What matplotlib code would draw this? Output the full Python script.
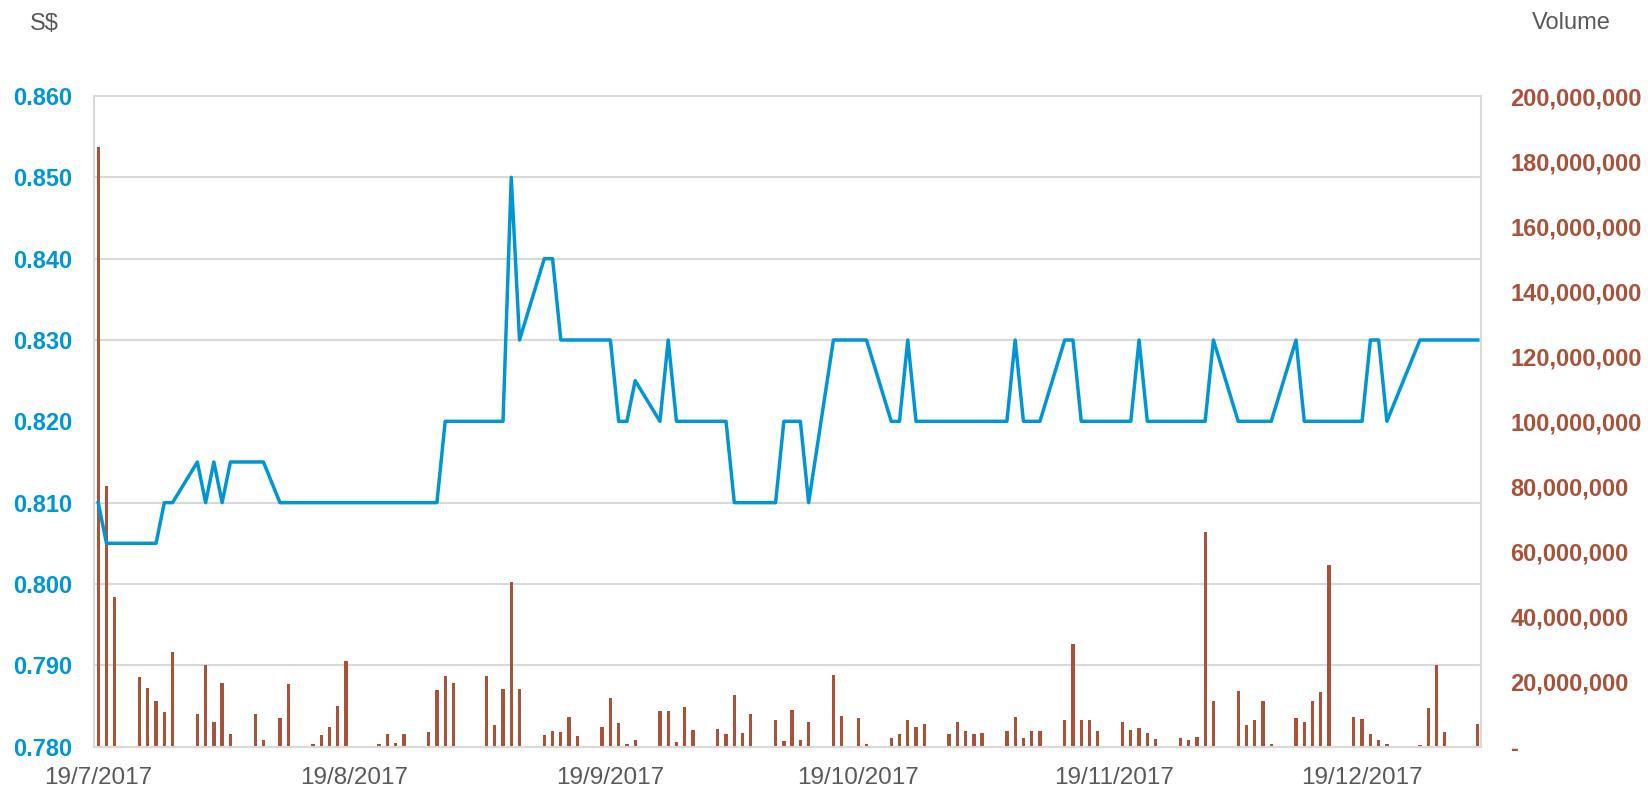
import numpy as np
import pandas as pd
import matplotlib
matplotlib.use('Agg')
import matplotlib.pyplot as plt
from matplotlib.ticker import FuncFormatter, MultipleLocator, FixedLocator

# trading days (SGX), 19 Jul 2017 - 2 Jan 2018
holidays = ['2017-08-09', '2017-09-01', '2017-10-18', '2017-12-25', '2018-01-01']
dates = pd.bdate_range('2017-07-19', '2018-01-02')
dates = dates[~dates.isin(pd.to_datetime(holidays))]

# closing price, S$
price = [
    # Jul
    0.810, 0.805, 0.805, 0.805, 0.805, 0.805, 0.810, 0.810, 0.815,
    # Aug
    0.810, 0.815, 0.810, 0.815, 0.815, 0.815, 0.810, 0.810, 0.810, 0.810, 0.810,
    0.810, 0.810, 0.810, 0.810, 0.810, 0.810, 0.810, 0.810, 0.810, 0.820, 0.820,
    # Sep
    0.820, 0.820, 0.820, 0.850, 0.830, 0.840, 0.840, 0.830, 0.830, 0.830,
    0.830, 0.830, 0.820, 0.820, 0.825, 0.820, 0.830, 0.820, 0.820, 0.820,
    # Oct
    0.820, 0.820, 0.810, 0.810, 0.810, 0.810, 0.820, 0.820, 0.820, 0.810, 0.830,
    0.830, 0.830, 0.830, 0.820, 0.820, 0.830, 0.820, 0.820, 0.820, 0.820,
    # Nov
    0.820, 0.820, 0.820, 0.820, 0.830, 0.820, 0.820, 0.820, 0.830, 0.830, 0.820,
    0.820, 0.820, 0.820, 0.820, 0.830, 0.820, 0.820, 0.820, 0.820, 0.820, 0.820,
    # Dec
    0.830, 0.820, 0.820, 0.820, 0.820, 0.820, 0.830, 0.820, 0.820, 0.820,
    0.820, 0.820, 0.820, 0.830, 0.830, 0.820, 0.830, 0.830, 0.830, 0.830,
    # Jan
    0.830,
]

# volume, millions of shares
volume_m = [
    # Jul
    184.3, 80.0, 46.0, 21.3, 18.0, 13.9, 10.7, 29.2, 10.1,
    # Aug
    25.2, 7.7, 19.6, 3.9, 10.0, 2.1, 8.8, 19.2, 0.7, 3.6, 6.0,
    12.5, 26.3, 0.2, 0.7, 4.0, 1.1, 3.9, 4.4, 17.5, 21.6, 19.6,
    # Sep
    21.6, 6.7, 17.7, 50.5, 17.6, 3.7, 4.7, 4.5, 9.1, 3.3,
    5.9, 14.8, 7.3, 0.9, 1.9, 10.9, 10.8, 1.5, 12.3, 5.1,
    # Oct
    5.3, 4.0, 16.0, 4.1, 10.0, 8.1, 1.6, 11.2, 1.9, 7.5, 21.9,
    9.3, 8.8, 0.9, 2.5, 3.9, 8.1, 6.0, 7.1, 4.0, 7.7,
    # Nov
    4.8, 4.0, 4.1, 4.8, 9.1, 2.8, 4.9, 4.7, 8.1, 31.7, 8.3,
    8.3, 4.7, 7.6, 5.1, 5.7, 4.3, 2.3, 2.8, 2.0, 3.1, 65.9,
    # Dec
    14.0, 17.1, 6.5, 8.1, 13.9, 0.7, 8.7, 7.5, 14.0, 16.7,
    55.9, 9.1, 8.5, 4.0, 1.9, 0.9, 0.5, 11.8, 25.1, 4.4,
    # Jan
    6.9,
]

tick_dates = ['2017-07-19', '2017-08-19', '2017-09-19', '2017-10-19', '2017-11-19', '2017-12-19']
tick_labels = ['19/7/2017', '19/8/2017', '19/9/2017', '19/10/2017', '19/11/2017', '19/12/2017']

blue = '#0096D6'
brown = '#A9523A'
grey_text = '#595959'
grid_col = '#D9D9D9'

plt.rcParams['font.family'] = ['Liberation Sans', 'DejaVu Sans']

fig = plt.figure(figsize=(16.48, 7.89), dpi=100)
ax_vol = fig.add_axes([0.0572, 0.0537, 0.8415, 0.8246])
ax_px = ax_vol.twinx()

x = dates.to_pydatetime()
volume = np.array(volume_m) * 1e6

ax_vol.bar(x, volume, width=0.4, color=brown, zorder=2)
ax_px.plot(x, price, color=blue, lw=2.5, zorder=3)

start = pd.Timestamp('2017-07-19')
ax_vol.set_xlim(start - pd.Timedelta(days=0.48), start + pd.Timedelta(days=167.4))

# volume axis on the right
ax_vol.set_ylim(0, 200e6)
ax_vol.yaxis.tick_right()
ax_vol.yaxis.set_major_locator(MultipleLocator(20e6))
ax_vol.yaxis.set_major_formatter(FuncFormatter(lambda v, p: '-' if v == 0 else f'{v:,.0f}'))
ax_vol.yaxis.set_minor_locator(MultipleLocator(25e6))
ax_vol.tick_params(axis='y', which='major', length=0, pad=21, labelsize=17,
                   labelcolor=brown, labelright=True, labelleft=False)
ax_vol.tick_params(axis='y', which='minor', length=0)
for lab in ax_vol.get_yticklabels():
    lab.set_fontweight('bold')
ax_vol.grid(axis='y', which='minor', color=grid_col, lw=1.5, zorder=0)
ax_vol.set_axisbelow(True)

# price axis on the left
ax_px.set_ylim(0.780, 0.860)
ax_px.yaxis.tick_left()
ax_px.yaxis.set_major_locator(MultipleLocator(0.01))
ax_px.yaxis.set_major_formatter(FuncFormatter(lambda v, p: f'{v:.3f}'))
ax_px.tick_params(axis='y', length=0, pad=16, labelsize=17, labelcolor=blue,
                  labelleft=True, labelright=False)
for lab in ax_px.get_yticklabels():
    lab.set_fontweight('bold')

# date ticks
ax_vol.xaxis.set_major_locator(FixedLocator(matplotlib.dates.date2num(pd.to_datetime(tick_dates).to_pydatetime())))
ax_vol.set_xticklabels(tick_labels)
ax_vol.tick_params(axis='x', length=0, pad=15, labelsize=17.5, labelcolor=grey_text)

for sp in ax_vol.spines.values():
    sp.set_color(grid_col)
    sp.set_linewidth(1.5)
for sp in ax_px.spines.values():
    sp.set_visible(False)

fig.text(30 / 1648, 1 - 24 / 789, 'S$', fontsize=17, color=grey_text, va='center', ha='left')
fig.text(1571 / 1648, 1 - 23 / 789, 'Volume', fontsize=17, color=grey_text, va='center', ha='center')

fig.savefig('out.png', dpi=100)
